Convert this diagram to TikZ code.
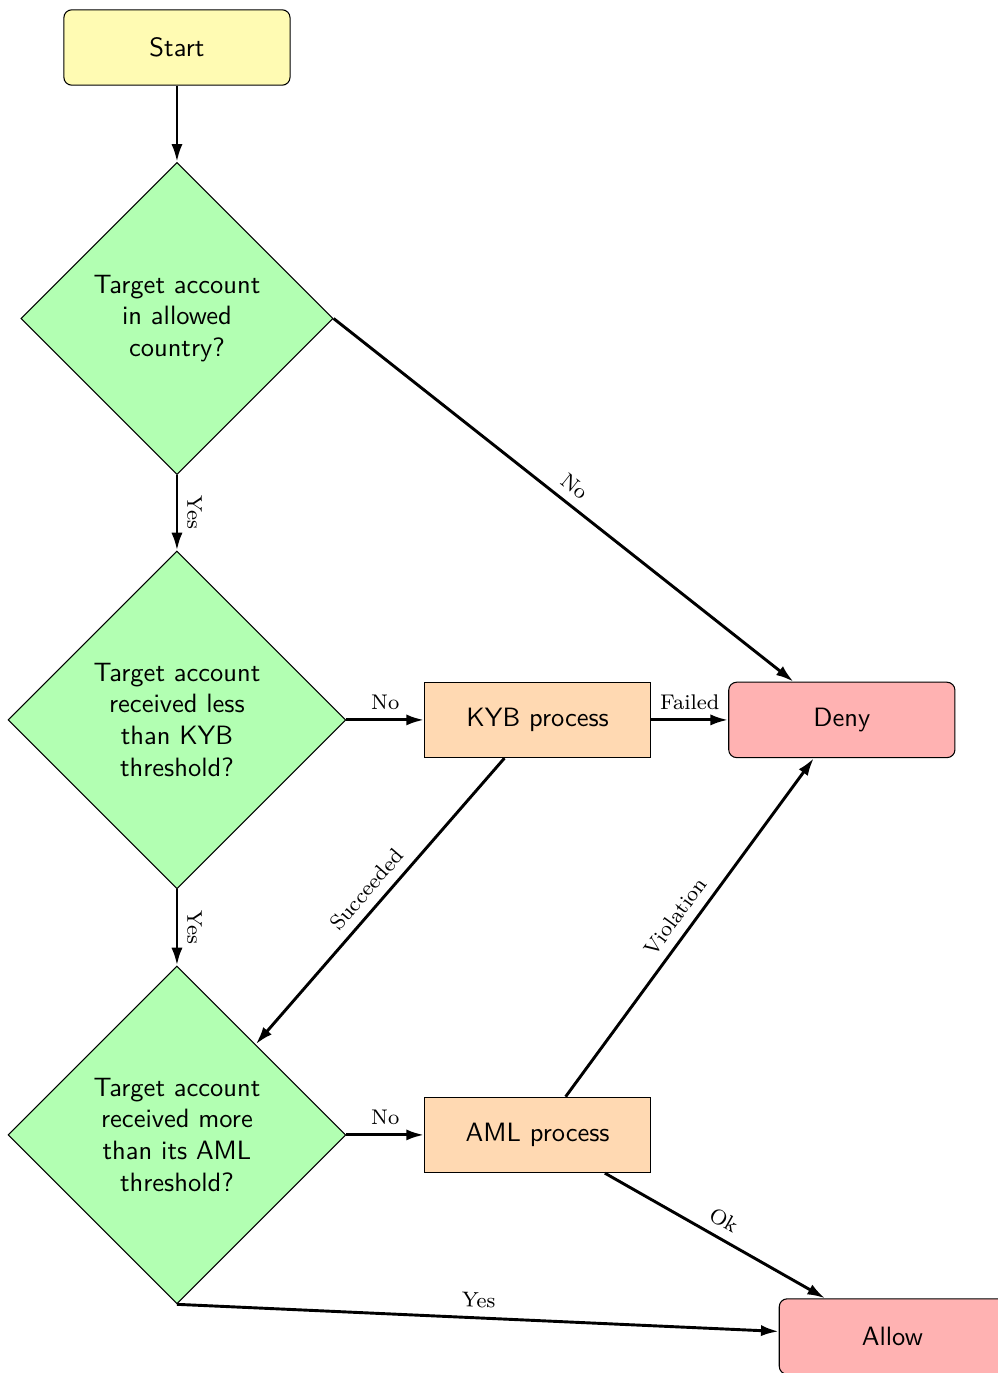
\documentclass[tikz,border=0pt]{standalone}
\usepackage{tikz}
\usetikzlibrary{shapes.geometric,arrows.meta,positioning}

\begin{document}
\begin{tikzpicture}[
  node distance=1cm,
  fStart/.style={rectangle, rounded corners=3pt,
    minimum width=3cm, minimum height=1cm,
    align=center, fill=yellow!30, draw=black,
    line width=0.4pt, font=\sffamily},
  fDecide/.style={diamond, aspect=1,
    align=center, inner sep=1pt,
    fill=green!30, draw=black,
    line width=0.4pt, font=\sffamily},
  fProc/.style={rectangle,
    minimum width=3cm, minimum height=1cm,
    align=center, fill=orange!30, draw=black,
    line width=0.4pt, font=\sffamily},
  fEnd/.style={rectangle, rounded corners=3pt,
    minimum width=3cm, minimum height=1cm,
    align=center, fill=red!30, draw=black,
    line width=0.4pt, font=\sffamily},
  farr/.style={-{Latex[length=6.7pt,width=4.2pt]}, line width=1.1pt},
  flab/.style={font=\footnotesize, sloped, above},
]

  \useasboundingbox (-2.347,0.630) rectangle (10.889,-17.580);

  %% ── Main column ─────────────────────────────────────────────
  \node[fStart] (start) {Start};
  \node[fDecide, minimum width=4.14cm, minimum height=4.14cm,
    below=1.01cm of start] (country) {%
    Target account\\in allowed\\country?};
  \node[fDecide, minimum width=4.48cm, minimum height=4.48cm,
    below=1.0cm of country] (kybchk) {%
    Target account\\received less\\than KYB\\threshold?};
  \node[fDecide, minimum width=4.48cm, minimum height=4.48cm,
    below=1.01cm of kybchk] (amlchk) {%
    Target account\\received more\\than its AML\\threshold?};

  %% ── Processes and outcomes ──────────────────────────────────
  \node[fProc, right=1.03cm of kybchk] (kyb) {KYB process};
  \node[fEnd, right=1.02cm of kyb] (deny) {Deny};
  \node[fProc, right=1.03cm of amlchk] (aml) {AML process};
  \node[fEnd, below right=1.66cm and 1.69cm of aml] (allow) {Allow};

  %% ── Arrows ──────────────────────────────────────────────────
  \draw[farr] (start.south) -- (country.north);
  \draw[farr] (country.south) -- node[flab] {Yes} (kybchk.north);
  \draw[farr] (kybchk.south) -- node[flab] {Yes} (amlchk.north);
  \draw[farr] (country.east) -- node[flab] {No} (deny);
  \draw[farr] (kybchk.east) -- node[flab] {No} (kyb.west);
  \draw[farr] (kyb.east) -- node[flab] {Failed} (deny.west);
  \draw[farr] (kyb) -- node[flab] {Succeeded} (amlchk);
  \draw[farr] (amlchk.east) -- node[flab] {No} (aml.west);
  \draw[farr] (aml) -- node[flab] {Violation} (deny);
  \draw[farr] (aml) -- node[flab] {Ok} (allow);
  \draw[farr] (amlchk.south) -- node[flab] {Yes} (allow);

\end{tikzpicture}
\end{document}
